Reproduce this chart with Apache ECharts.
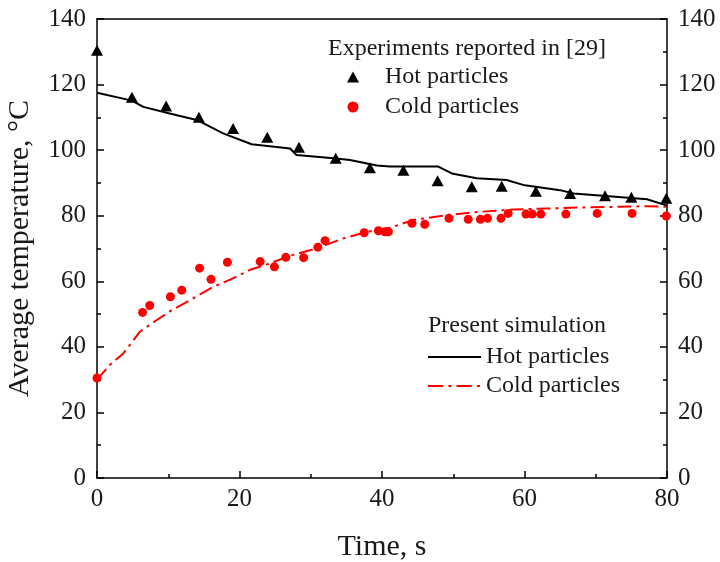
<!DOCTYPE html>
<html>
<head>
<meta charset="utf-8">
<script src="https://cdn.jsdelivr.net/npm/echarts@6/dist/echarts.min.js"></script>
<style>html,body{margin:0;padding:0;background:#fff}#c{width:720px;height:562px}</style>
</head>
<body>
<div id="c"></div>
<script>
// Experiments: hot particles [time, temp]
const hotExpTime = [0, 4.9, 9.7, 14.3, 19.1, 23.9, 28.35, 33.5, 38.3, 43.0, 47.8, 52.6, 56.8, 61.6, 66.4, 71.3, 75.0, 79.9];
const hotExpTemp = [130.5, 116.1, 113.5, 110.0, 106.6, 103.9, 100.9, 97.5, 94.6, 93.9, 90.7, 88.8, 89.0, 87.5, 86.8, 86.1, 85.6, 85.3];
// Experiments: cold particles
const coldExpTime = [0, 6.4, 7.4, 10.3, 11.9, 14.4, 16.0, 18.3, 22.9, 24.9, 26.5, 29.0, 31.0, 32.0, 37.5, 39.5, 40.4, 40.9, 44.2, 46.0, 49.4, 52.1, 53.8, 54.8, 56.7, 57.7, 60.2, 61.1, 62.3, 65.8, 70.2, 75.1, 79.9];
const coldExpTemp = [30.5, 50.5, 52.6, 55.3, 57.3, 64.0, 60.6, 65.8, 66.0, 64.4, 67.3, 67.2, 70.4, 72.4, 74.8, 75.4, 75.1, 75.1, 77.7, 77.4, 79.2, 78.9, 78.9, 79.2, 79.2, 80.7, 80.5, 80.5, 80.5, 80.5, 80.7, 80.7, 79.9];
// Simulation: hot particles
const hotSimTime = [0, 4.9, 6.5, 10.2, 14.0, 17.7, 21.7, 27.1, 28.0, 33.2, 35.5, 39.3, 41.1, 47.9, 49.8, 53.3, 57.5, 59.8, 65.0, 66.9, 77.2, 79.7, 80];
const hotSimTemp = [117.5, 115.1, 113.2, 111.2, 109.2, 105.1, 101.8, 100.5, 98.5, 97.5, 97.0, 95.3, 95.0, 95.0, 92.9, 91.4, 90.9, 89.4, 87.8, 86.8, 85.0, 83.3, 83.0];
// Simulation: cold particles
const coldSimTime = [0, 1.8, 3.7, 6.0, 8.4, 10.5, 13.1, 16.3, 18.7, 21.5, 24.3, 27.1, 30.8, 34.6, 37.9, 41.1, 44.4, 49.1, 53.8, 58.4, 63.1, 67.8, 72.5, 77.2, 80];
const coldSimTemp = [30.0, 34.5, 38.0, 44.6, 48.2, 51.2, 54.3, 58.3, 60.5, 63.5, 65.5, 67.8, 70.0, 73.1, 75.1, 76.3, 78.7, 80.2, 81.2, 81.9, 82.2, 82.5, 82.7, 82.9, 82.7];

const xTicks = [0, 20, 40, 60, 80];
const yTicks = [0, 20, 40, 60, 80, 100, 120, 140];

const zip = (a, b) => a.map((v, i) => [v, b[i]]);
const FONT = '"Liberation Serif", "Times New Roman", serif';
const TXT = '#1a1a1a';
const axisLineStyle = {color: '#000', width: 1.5};
const tickStyle = {color: '#000', width: 1.5};

function valueAxis(extra) {
  return Object.assign({
    type: 'value',
    axisLine: {show: true, onZero: false, lineStyle: axisLineStyle},
    axisTick: {show: true, inside: true, length: 7, lineStyle: tickStyle},
    minorTick: {show: true, splitNumber: 2, length: 4, lineStyle: tickStyle},
    axisLabel: {fontFamily: FONT, fontSize: 25, color: TXT, margin: 11},
    splitLine: {show: false}
  }, extra);
}

const chart = echarts.init(document.getElementById('c'), null, {renderer: 'canvas'});
chart.setOption({
  animation: false,
  backgroundColor: '#fff',
  grid: {left: 97, right: 53, top: 19, bottom: 84, containLabel: false, outerBoundsMode: 'none'},
  xAxis: [
    valueAxis({
      min: xTicks[0], max: xTicks[xTicks.length - 1], interval: 20, position: 'bottom',
      name: 'Time, s', nameLocation: 'middle', nameGap: 54,
      nameTextStyle: {fontFamily: FONT, fontSize: 30, color: TXT},
      axisLabel: {fontFamily: FONT, fontSize: 25, color: TXT, margin: 9}
    }),
    valueAxis({
      min: xTicks[0], max: xTicks[xTicks.length - 1], interval: 20, position: 'top',
      axisTick: {show: false}, minorTick: {show: false}, axisLabel: {show: false}
    })
  ],
  yAxis: [
    valueAxis({
      min: yTicks[0], max: yTicks[yTicks.length - 1], interval: 20, position: 'left',
      name: 'Average temperature, °C', nameLocation: 'middle', nameGap: 62, nameRotate: 90,
      nameTextStyle: {fontFamily: FONT, fontSize: 30, color: TXT}
    }),
    valueAxis({
      min: yTicks[0], max: yTicks[yTicks.length - 1], interval: 20, position: 'right'
    })
  ],
  legend: [{
    data: ['Hot particles', 'Cold particles'],
    orient: 'vertical', left: 342, top: 60, itemGap: 6, itemWidth: 12, itemHeight: 11,
    textStyle: {fontFamily: FONT, fontSize: 24, color: TXT, padding: [0, 0, 0, 21]}
  }, {
    data: [
      {name: 'Hot particles ', icon: 'path://M0,0L52,0L52,2L0,2Z'},
      {name: 'Cold particles ', icon: 'path://M0,0h15v2h-15Z M20,0h3v2h-3Z M28,0h15v2h-15Z M48,0h3v2h-3Z M52,0h0.01v2h-0.01Z'}
    ],
    orient: 'vertical', left: 423, top: 340, itemGap: 5, itemWidth: 53, itemHeight: 14,
    textStyle: {fontFamily: FONT, fontSize: 24, color: TXT}
  }],
  graphic: [
    {type: 'text', left: 328, top: 37, style: {text: 'Experiments reported in [29]', font: '24px ' + FONT, fill: TXT}},
    {type: 'text', left: 428, top: 314, style: {text: 'Present simulation', font: '24px ' + FONT, fill: TXT}}
  ],
  series: [{
    name: 'Hot particles ', type: 'line', data: zip(hotSimTime, hotSimTemp),
    showSymbol: false, symbol: 'none', lineStyle: {color: '#000', width: 2}, itemStyle: {color: '#000'}, z: 2
  }, {
    name: 'Cold particles ', type: 'line', data: zip(coldSimTime, coldSimTemp),
    showSymbol: false, symbol: 'none',
    lineStyle: {color: '#ff0000', width: 2, type: [14, 5, 3, 5]}, itemStyle: {color: '#ff0000'}, z: 2
  }, {
    name: 'Hot particles', type: 'scatter', data: zip(hotExpTime, hotExpTemp),
    symbol: 'triangle', symbolSize: [12, 11], itemStyle: {color: '#000', opacity: 1}, z: 3
  }, {
    name: 'Cold particles', type: 'scatter', data: zip(coldExpTime, coldExpTemp),
    symbol: 'circle', symbolSize: 9, itemStyle: {color: '#ff0000', opacity: 1}, z: 3
  }]
});
</script>
</body>
</html>
